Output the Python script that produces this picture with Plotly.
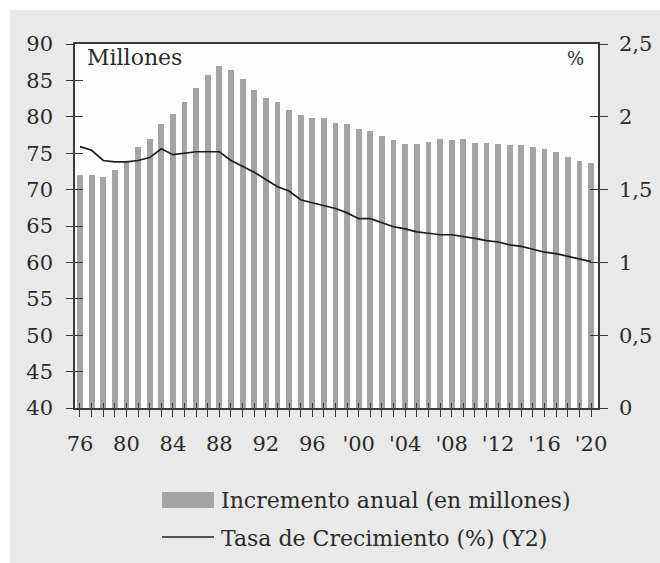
import plotly.graph_objects as go

# Annual data, 1976-2020
years = list(range(1976, 2021))
incremento = [72.0, 72.0, 71.8, 72.7, 73.8, 75.8, 76.9, 79.0, 80.4, 82.1,
              84.0, 85.8, 87.0, 86.4, 85.2, 83.7, 82.6, 82.1, 81.0, 80.2,
              79.8, 79.8, 79.2, 79.0, 78.3, 78.0, 77.4, 76.8, 76.3, 76.3,
              76.6, 76.9, 76.8, 76.9, 76.4, 76.4, 76.3, 76.1, 76.1, 75.8,
              75.6, 75.1, 74.5, 73.9, 73.6]
tasa = [1.795, 1.77, 1.70, 1.69, 1.69, 1.70, 1.72, 1.78, 1.74, 1.75,
        1.76, 1.76, 1.76, 1.70, 1.66, 1.62, 1.57, 1.52, 1.49, 1.43,
        1.41, 1.39, 1.37, 1.34, 1.30, 1.30, 1.27, 1.245, 1.23, 1.21,
        1.20, 1.19, 1.19, 1.18, 1.165, 1.15, 1.14, 1.12, 1.11, 1.09,
        1.07, 1.06, 1.04, 1.02, 1.005]

x_tick_years = [1976, 1980, 1984, 1988, 1992, 1996, 2000, 2004, 2008, 2012, 2016, 2020]
x_tick_labels = ["76", "80", "84", "88", "92", "96", "'00", "'04", "'08", "'12", "'16", "'20"]
y1_ticks = [40, 45, 50, 55, 60, 65, 70, 75, 80, 85, 90]
y2_ticks = [0, 0.5, 1, 1.5, 2, 2.5]
y2_labels = ["0", "0,5", "1", "1,5", "2", "2,5"]

name_bars = "Incremento anual (en millones)"
name_line = "Tasa de Crecimiento (%) (Y2)"

FONT = "DejaVu Serif"
TXT = "#2b2b2b"
AX = "#3a3a3a"
BAR = "#a4a4a4"
BG = "#e9e9e9"

W, H = 660, 563
L, R, T, B = 75, 62, 44, 155
pw, ph = W - L - R, H - T - B


def px_x(p):
    return (p - L) / pw


def px_y(p):
    return (H - B - p) / ph


xr = [1975.57, 2020.6]

fig = go.Figure()
fig.add_trace(go.Bar(x=years, y=incremento, name=name_bars, marker_color=BAR,
                     marker_line_width=0, width=0.5, base=0,
                     xaxis="x", yaxis="y"))
fig.add_trace(go.Scatter(x=years, y=tasa, name=name_line, mode="lines",
                         line=dict(color="#1e1e1e", width=1.7),
                         xaxis="x", yaxis="y2"))
# invisible helpers so the inner-tick overlay axes get drawn
fig.add_trace(go.Scatter(x=[years[0]], y=[40], mode="markers", opacity=0,
                         hoverinfo="skip", xaxis="x2", yaxis="y3"))
fig.add_trace(go.Scatter(x=[years[0]], y=[0], mode="markers", opacity=0,
                         hoverinfo="skip", xaxis="x2", yaxis="y4"))

tickfont = dict(family=FONT, size=21, color=TXT)

fig.update_layout(
    width=W, height=H,
    margin=dict(l=L, r=R, t=T, b=B, autoexpand=False),
    paper_bgcolor=BG, plot_bgcolor="#fdfdfd",
    showlegend=False, bargap=0,
    xaxis=dict(range=xr, tickvals=x_tick_years, ticktext=x_tick_labels,
               tickfont=tickfont, ticks="outside", ticklen=7, tickwidth=1.2,
               tickcolor=AX, showline=True, linecolor=AX, linewidth=1.5,
               mirror=True, showgrid=False, zeroline=False, automargin=False,
               ticklabelstandoff=9,
               minor=dict(tickvals=years, ticks="outside", ticklen=7,
                          tickwidth=1.2, tickcolor=AX)),
    xaxis2=dict(range=xr, overlaying="x", anchor="y", side="bottom",
                tickvals=years, ticks="inside", ticklen=5, tickwidth=1.2,
                tickcolor=AX, showticklabels=False, showline=False,
                showgrid=False, zeroline=False, automargin=False),
    yaxis=dict(range=[40, 90], tickvals=y1_ticks, tickfont=tickfont,
               ticks="outside", ticklen=7, tickwidth=1.2, tickcolor=AX,
               showline=True, linecolor=AX, linewidth=1.5, mirror=True,
               showgrid=False, zeroline=False, automargin=False,
               ticklabelstandoff=9),
    yaxis2=dict(range=[0, 2.5], tickvals=y2_ticks, ticktext=y2_labels,
                tickfont=tickfont, overlaying="y", side="right",
                ticks="outside", ticklen=8, tickwidth=1.2, tickcolor=AX,
                showline=True, linecolor=AX, linewidth=1.5, automargin=False,
                showgrid=False, zeroline=False, ticklabelstandoff=7),
    yaxis3=dict(range=[40, 90], tickvals=y1_ticks, overlaying="y", side="left",
                anchor="x", ticks="inside", ticklen=8, tickwidth=1.2,
                tickcolor=AX, showticklabels=False, showline=False,
                showgrid=False, zeroline=False, automargin=False),
    yaxis4=dict(range=[0, 2.5], tickvals=y2_ticks, overlaying="y", side="right",
                anchor="x", ticks="inside", ticklen=8, tickwidth=1.2,
                tickcolor=AX, showticklabels=False, showline=False,
                showgrid=False, zeroline=False, automargin=False),
)

shapes = [
    # white strips along the top and left edges of the page
    dict(type="rect", xref="paper", yref="paper", x0=px_x(0), x1=px_x(W),
         y0=px_y(10), y1=px_y(0), fillcolor="white", line_width=0, layer="below"),
    dict(type="rect", xref="paper", yref="paper", x0=px_x(0), x1=px_x(10),
         y0=px_y(H), y1=px_y(0), fillcolor="white", line_width=0, layer="below"),
    # legend swatches
    dict(type="rect", xref="paper", yref="paper", x0=px_x(162), x1=px_x(214),
         y0=px_y(508), y1=px_y(492), fillcolor=BAR, line_width=0),
    dict(type="line", xref="paper", yref="paper", x0=px_x(162), x1=px_x(214),
         y0=px_y(537), y1=px_y(537), line=dict(color="#1e1e1e", width=1.7)),
]
fig.update_layout(shapes=shapes)

ann_font = dict(family=FONT, size=22, color=TXT)
annotations = [
    dict(text="Millones", xref="paper", yref="paper", x=px_x(85), y=px_y(58),
         xanchor="left", yanchor="middle", showarrow=False, font=ann_font),
    dict(text="%", xref="paper", yref="paper", x=px_x(586), y=px_y(59),
         xanchor="right", yanchor="middle", showarrow=False,
         font=dict(family=FONT, size=18, color=TXT)),
    dict(text=name_bars, xref="paper", yref="paper", x=px_x(219), y=px_y(500),
         xanchor="left", yanchor="middle", showarrow=False, font=ann_font),
    dict(text=name_line, xref="paper", yref="paper", x=px_x(219), y=px_y(538),
         xanchor="left", yanchor="middle", showarrow=False, font=ann_font),
]
fig.update_layout(annotations=annotations)

fig.write_html("out.html")
